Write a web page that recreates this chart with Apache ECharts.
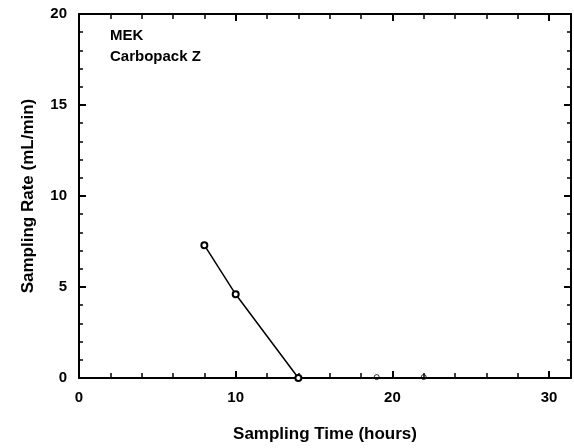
<!DOCTYPE html>
<html>
<head>
<meta charset="utf-8">
<script src="https://cdn.jsdelivr.net/npm/echarts@6/dist/echarts.min.js"></script>
<style>
  html, body { margin: 0; padding: 0; background: #fff; }
  #chart { width: 574px; height: 448px; }
</style>
</head>
<body>
<div id="chart"></div>
<script>
// Sampling time (hours) and measured sampling rate (mL/min)
const samplingTime = [8, 10, 14];
const samplingRate = [7.3, 4.6, 0];
// Later measurements sitting on the baseline
const laterTime = [19, 22];
const laterRate = [0.05, 0.05];

const xTicks = [0, 10, 20, 30];
const yTicks = [0, 5, 10, 15, 20];
const notes = ['MEK', 'Carbopack Z'];

const font = '"Liberation Sans", Arial, sans-serif';

const mainLine = samplingTime.map((t, i) => [t, samplingRate[i]]);
const laterPts = laterTime.map((t, i) => [t, laterRate[i]]);

const chart = echarts.init(document.getElementById('chart'), null, { renderer: 'canvas' });

const axisLine = { show: true, onZero: false, lineStyle: { color: '#000', width: 2 } };
const tickStyle = { show: true, inside: true, length: 7, lineStyle: { color: '#000', width: 2 } };
const minorX = { show: true, splitNumber: 5, length: 5, lineStyle: { color: '#000', width: 1.5 } };
const minorY = { show: true, splitNumber: 5, length: 4, lineStyle: { color: '#000', width: 1.5 } };

chart.setOption({
  animation: false,
  backgroundColor: '#fff',
  grid: { left: 79, right: 3, top: 14, bottom: 70 },
  title: {
    text: notes.join('\n'),
    left: 105, top: 20,
    textStyle: { fontFamily: font, fontWeight: 'bold', fontSize: 15, lineHeight: 21, color: '#000' }
  },
  xAxis: [
    {
      type: 'value', min: 0, max: 31.4, interval: 10, position: 'bottom',
      name: 'Sampling Time (hours)', nameLocation: 'middle', nameGap: 48,
      nameTextStyle: { fontFamily: font, fontWeight: 'bold', fontSize: 17, color: '#000' },
      axisLine, axisTick: tickStyle, minorTick: minorX,
      splitLine: { show: false },
      axisLabel: {
        fontFamily: font, fontWeight: 'bold', fontSize: 15, color: '#000', margin: 12,
        formatter: v => (xTicks.includes(v) ? String(v) : '')
      }
    },
    {
      type: 'value', min: 0, max: 31.4, interval: 10, position: 'top',
      axisLine, axisTick: tickStyle, minorTick: minorX,
      splitLine: { show: false }, axisLabel: { show: false }
    }
  ],
  yAxis: [
    {
      type: 'value', min: 0, max: 20, interval: 5, position: 'left',
      name: 'Sampling Rate (mL/min)', nameLocation: 'middle', nameGap: 42,
      nameTextStyle: { fontFamily: font, fontWeight: 'bold', fontSize: 17, color: '#000' },
      axisLine, axisTick: tickStyle, minorTick: minorY,
      splitLine: { show: false },
      axisLabel: {
        fontFamily: font, fontWeight: 'bold', fontSize: 15, color: '#000', margin: 12,
        formatter: v => (yTicks.includes(v) ? String(v) : '')
      }
    },
    {
      type: 'value', min: 0, max: 20, interval: 5, position: 'right',
      axisLine, axisTick: tickStyle, minorTick: minorY,
      splitLine: { show: false }, axisLabel: { show: false }
    }
  ],
  series: [
    {
      type: 'line', data: mainLine, xAxisIndex: 0, yAxisIndex: 0,
      symbol: 'emptyCircle', symbolSize: 6, showAllSymbol: true,
      lineStyle: { color: '#000', width: 1.5 },
      itemStyle: { color: '#000', borderColor: '#000', borderWidth: 1.5 },
      z: 5
    },
    {
      type: 'scatter', data: laterPts, xAxisIndex: 0, yAxisIndex: 0,
      symbol: 'circle', symbolSize: 5,
      itemStyle: { color: 'rgba(0,0,0,0)', borderColor: '#000', borderWidth: 1 },
      z: 5
    }
  ]
});
</script>
</body>
</html>
